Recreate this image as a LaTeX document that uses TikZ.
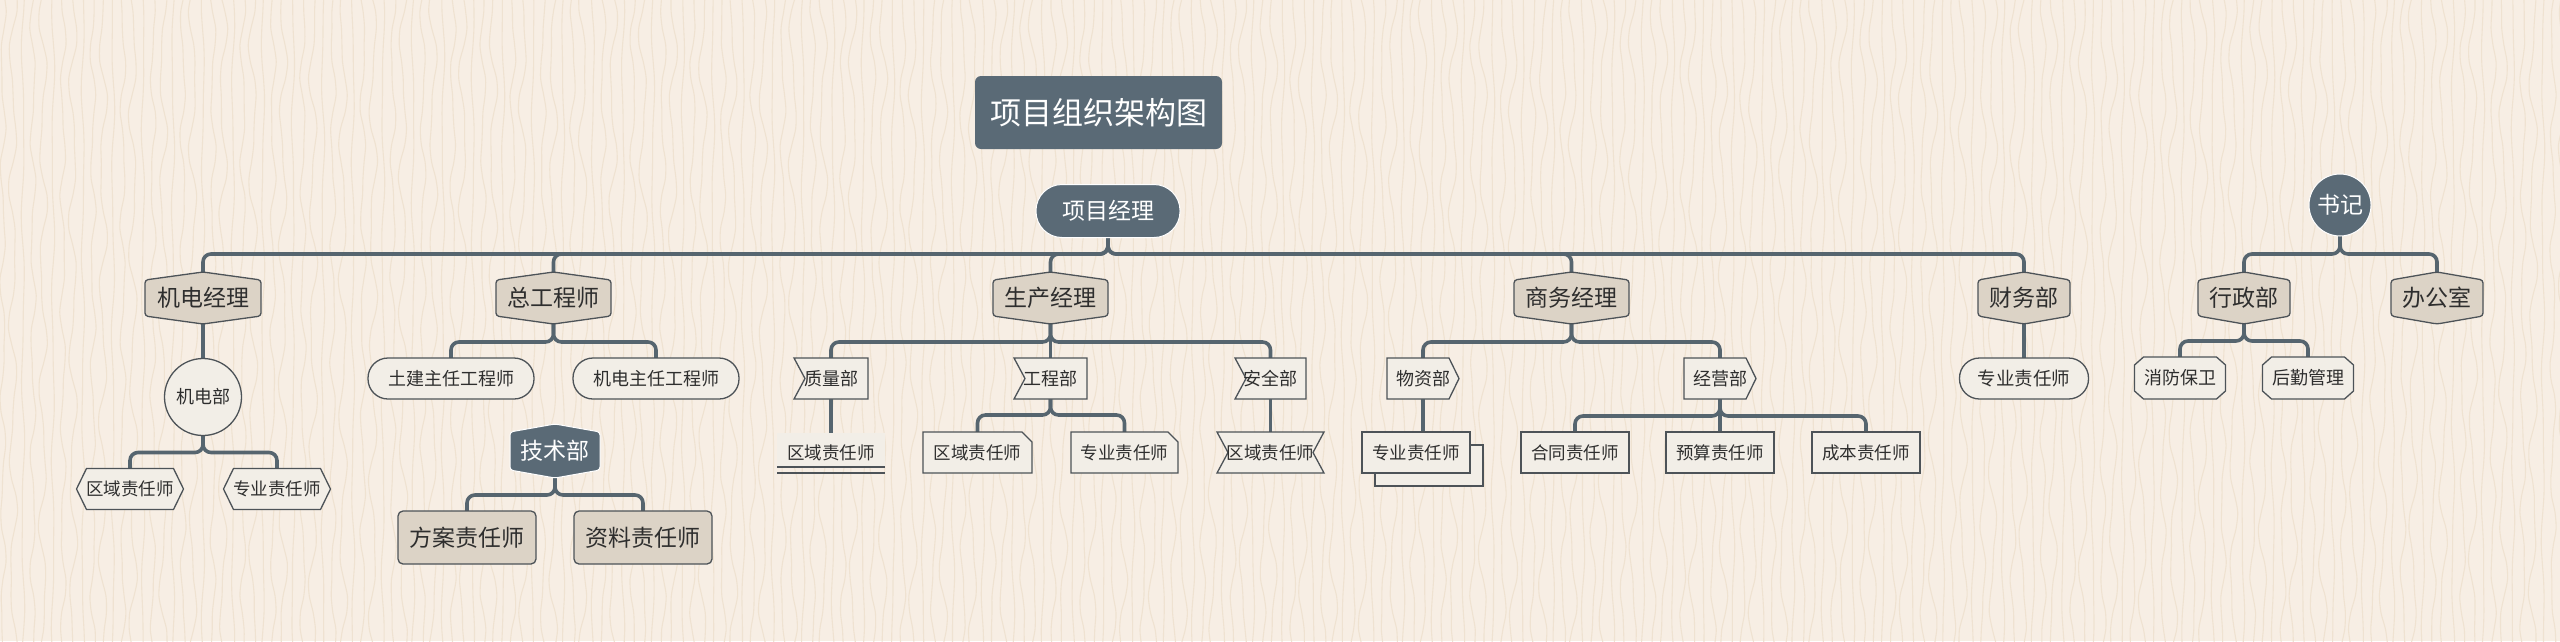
\documentclass[tikz,border=0pt]{standalone}
\usepackage{fontspec}
\newfontfamily\cjk{Noto Sans CJK SC}
\usetikzlibrary{calc}
\pgfdeclarelayer{paperlayer}
\pgfdeclarelayer{shp}
\pgfsetlayers{paperlayer,shp,main}
\definecolor{paper}{HTML}{F7EEE4}
\definecolor{grain}{HTML}{EFE2D1}
\definecolor{slate}{HTML}{5A6A76}
\definecolor{wire}{HTML}{56656F}
\definecolor{sand}{HTML}{DCD3C6}
\definecolor{chalk}{HTML}{F2EEE7}
\definecolor{ink}{HTML}{2E2E2E}
\definecolor{rim}{HTML}{4D5358}
\tikzset{
  tn/.style={inner sep=0pt, outer sep=0pt, text=ink, font=\cjk\fontsize{18}{18}\selectfont},
  big/.style={font=\cjk\fontsize{23}{23}\selectfont},
  huge/.style={font=\cjk\fontsize{31}{31}\selectfont},
  wt/.style={text=white},
  sz/.style n args={2}{minimum width=#1pt, minimum height=#2pt},
  mainfill/.style={fill=sand, draw=rim, line width=1.3pt, rounded corners=3pt},
  subfill/.style={fill=chalk, draw=rim, line width=1.3pt},
  darkfill/.style={fill=slate, draw=white, line width=1pt},
  conn/.style={draw=wire, line width=3.6pt, rounded corners=8pt},
  grainline/.style={draw=grain, line width=1.1pt}
}
\newcommand\hexV[2]{\path[#2] ($(#1.north west)+(0,8)$) -- (#1.north) -- ($(#1.north east)+(0,8)$) -- ($(#1.south east)+(0,-8)$) -- (#1.south) -- ($(#1.south west)+(0,-8)$) -- cycle;}
\newcommand\hexH[2]{\path[#2] (#1.west) -- ($(#1.north west)+(10,0)$) -- ($(#1.north east)+(-10,0)$) -- (#1.east) -- ($(#1.south east)+(-10,0)$) -- ($(#1.south west)+(10,0)$) -- cycle;}
\newcommand\notchL[2]{\path[#2] (#1.north west) -- (#1.north east) -- (#1.south east) -- (#1.south west) -- ($(#1.west)+(11,0)$) -- cycle;}
\newcommand\bowTie[2]{\path[#2] (#1.north west) -- (#1.north east) -- ($(#1.east)+(-11,0)$) -- (#1.south east) -- (#1.south west) -- ($(#1.west)+(11,0)$) -- cycle;}
\newcommand\cutTR[2]{\path[#2] (#1.north west) -- ($(#1.north east)+(-10,0)$) -- ($(#1.north east)+(0,10)$) -- (#1.south east) -- (#1.south west) -- cycle;}
\newcommand\arrowR[2]{\path[#2] (#1.north west) -- ($(#1.north east)+(-10,0)$) -- (#1.east) -- ($(#1.south east)+(-10,0)$) -- (#1.south west) -- cycle;}
\newcommand\octa[2]{\path[#2] ($(#1.north west)+(9,0)$) -- ($(#1.north east)+(-9,0)$) -- ($(#1.north east)+(0,8)$) -- ($(#1.south east)+(0,-8)$) -- ($(#1.south east)+(-9,0)$) -- ($(#1.south west)+(9,0)$) -- ($(#1.south west)+(0,-8)$) -- ($(#1.north west)+(0,8)$) -- cycle;}
\newcommand\stad[2]{\path[#2, rounded corners=20pt] (#1.north west) rectangle (#1.south east);}
\begin{document}
\begin{tikzpicture}[x=1pt, y=-1pt]
\useasboundingbox (0,0) rectangle (2560,641);
% ---- nodes ----
\node[tn, huge, wt, sz={247}{73}] (title) at (1098.5,112.5) {项目组织架构图};
\node[tn, big, wt, sz={144}{53}] (pm) at (1108,211) {项目经理};
\node[tn, big, sz={116}{52}] (jd) at (203,298) {机电经理};
\node[tn, big, sz={115}{52}] (zg) at (553.5,298) {总工程师};
\node[tn, big, sz={115}{52}] (sc) at (1050.5,298) {生产经理};
\node[tn, big, sz={115}{52}] (sw) at (1571.5,298) {商务经理};
\node[tn, big, sz={92}{52}] (cw) at (2024,298) {财务部};
\node[tn, big, wt, sz={62}{62}] (sj) at (2340,205) {书记};
\node[tn, big, sz={92}{52}] (xz) at (2244,298) {行政部};
\node[tn, big, sz={92}{52}] (bgs) at (2437,298) {办公室};
\node[tn, sz={77}{77}] (jdb) at (203,397) {机电部};
\node[tn, font=\cjk\fontsize{17.5}{17.5}\selectfont, sz={107}{41}] (jd1) at (130,489) {区域责任师};
\node[tn, font=\cjk\fontsize{17.5}{17.5}\selectfont, sz={107}{41}] (jd2) at (277,489) {专业责任师};
\node[tn, sz={166}{41}] (tj) at (451,378.5) {土建主任工程师};
\node[tn, sz={166}{41}] (jdz) at (656,378.5) {机电主任工程师};
\node[tn, big, wt, sz={90}{54}] (js) at (555,451) {技术部};
\node[tn, big, sz={138}{53}] (fa) at (467,537.5) {方案责任师};
\node[tn, big, sz={138}{53}] (zl) at (643,537.5) {资料责任师};
\node[tn, sz={74}{41}] (zlb) at (831,378.5) {质量部};
\node[tn, sz={73}{41}] (gcb) at (1050.5,378.5) {工程部};
\node[tn, sz={71}{41}] (aqb) at (1270.5,378.5) {安全部};
\node[tn, font=\cjk\fontsize{17.5}{17.5}\selectfont, sz={108}{40}] (zl1) at (831,453) {区域责任师};
\node[tn, font=\cjk\fontsize{17.5}{17.5}\selectfont, sz={109}{41}] (gc1) at (977.5,452.5) {区域责任师};
\node[tn, font=\cjk\fontsize{17.5}{17.5}\selectfont, sz={107}{41}] (gc2) at (1124.5,452.5) {专业责任师};
\node[tn, font=\cjk\fontsize{17.5}{17.5}\selectfont, sz={107}{41}] (aq1) at (1270.5,452.5) {区域责任师};
\node[tn, sz={72}{41}] (wzb) at (1423,378.5) {物资部};
\node[tn, sz={72}{41}] (jyb) at (1720,378.5) {经营部};
\node[tn, font=\cjk\fontsize{17.5}{17.5}\selectfont, sz={108}{41}] (wz1) at (1416,452.5) {专业责任师};
\node[tn, font=\cjk\fontsize{17.5}{17.5}\selectfont, sz={108}{41}] (ht) at (1575,452.5) {合同责任师};
\node[tn, font=\cjk\fontsize{17.5}{17.5}\selectfont, sz={108}{41}] (ys) at (1720,452.5) {预算责任师};
\node[tn, font=\cjk\fontsize{17.5}{17.5}\selectfont, sz={108}{41}] (cb) at (1866,452.5) {成本责任师};
\node[tn, font=\cjk\fontsize{18.5}{18.5}\selectfont, sz={129}{41}] (cw1) at (2024,378.5) {专业责任师};
\node[tn, sz={91}{42}] (xf) at (2180,378) {消防保卫};
\node[tn, sz={91}{42}] (hq) at (2308,378) {后勤管理};
% ---- background and connectors ----
\begin{pgfonlayer}{paperlayer}
\fill[paper] (0,0) rectangle (2560,641);
\foreach \gx [count=\i] in {3,13,...,2563}{
  \pgfmathsetmacro\amp{mod(\i*7,3)+1.2}
  \pgfmathsetmacro\ph{mod(\i*47,360)}
  \pgfmathsetmacro\ps{mod(\i*29,360)}
  \pgfmathsetmacro\fq{2.3+0.5*mod(\i*5,3)}
  \draw[grainline] plot[variable=\t, domain=-5:646, samples=40, smooth] ({\gx+\amp*sin(\t*\fq+\ph)+0.5*\amp*sin(\t*1.8*\fq+\ps)}, \t);
}
\path[conn] (pm.south) |- ($(jd.north)+(0,-18)$) -- (jd.north);
\path[conn] (pm.south) |- ($(zg.north)+(0,-18)$) -- (zg.north);
\path[conn] (pm.south) |- ($(sc.north)+(0,-18)$) -- (sc.north);
\path[conn] (pm.south) |- ($(sw.north)+(0,-18)$) -- (sw.north);
\path[conn] (pm.south) |- ($(cw.north)+(0,-18)$) -- (cw.north);
\path[conn] (sj.south) |- ($(xz.north)+(0,-18)$) -- (xz.north);
\path[conn] (sj.south) |- ($(bgs.north)+(0,-18)$) -- (bgs.north);
\path[conn] (jd.south) -- (jdb.north);
\path[conn] (jdb.south) |- ($(jd1.north)+(0,-16)$) -- (jd1.north);
\path[conn] (jdb.south) |- ($(jd2.north)+(0,-16)$) -- (jd2.north);
\path[conn] (zg.south) |- ($(tj.north)+(0,-16)$) -- (tj.north);
\path[conn] (zg.south) |- ($(jdz.north)+(0,-16)$) -- (jdz.north);
\path[conn] (js.south) |- ($(fa.north)+(0,-16)$) -- (fa.north);
\path[conn] (js.south) |- ($(zl.north)+(0,-16)$) -- (zl.north);
\path[conn] (sc.south) |- ($(zlb.north)+(0,-16)$) -- (zlb.north);
\path[conn] (sc.south) -- (gcb.north);
\path[conn] (sc.south) |- ($(aqb.north)+(0,-16)$) -- (aqb.north);
\path[conn] (zlb.south) -- (zl1.north);
\path[conn] (gcb.south) |- ($(gc1.north)+(0,-17)$) -- (gc1.north);
\path[conn] (gcb.south) |- ($(gc2.north)+(0,-17)$) -- (gc2.north);
\path[conn] (aqb.south) -- (aq1.north);
\path[conn] (sw.south) |- ($(wzb.north)+(0,-16)$) -- (wzb.north);
\path[conn] (sw.south) |- ($(jyb.north)+(0,-16)$) -- (jyb.north);
\path[conn] (wzb.south) -- (wzb.south |- wz1.north);
\path[conn] (jyb.south) |- ($(ht.north)+(0,-16)$) -- (ht.north);
\path[conn] (jyb.south) -- (ys.north);
\path[conn] (jyb.south) |- ($(cb.north)+(0,-16)$) -- (cb.north);
\path[conn] (cw.south) -- (cw1.north);
\path[conn] (xz.south) |- ($(xf.north)+(0,-16)$) -- (xf.north);
\path[conn] (xz.south) |- ($(hq.north)+(0,-16)$) -- (hq.north);
\end{pgfonlayer}
% ---- shapes ----
\begin{pgfonlayer}{shp}
\path[fill=slate, rounded corners=6pt] (title.north west) rectangle (title.south east);
\path[darkfill, rounded corners=26pt] (pm.north west) rectangle (pm.south east);
\path[darkfill] (sj) circle (31);
\foreach \n in {jd,zg,sc,sw,cw,xz,bgs}{\hexV{\n}{mainfill}}
\hexV{js}{fill=slate, draw=white, line width=1pt, rounded corners=3pt}
\path[subfill] (jdb) circle (38.5);
\hexH{jd1}{subfill}
\hexH{jd2}{subfill}
\stad{tj}{subfill}
\stad{jdz}{subfill}
\stad{cw1}{subfill}
\path[mainfill, rounded corners=5pt] (fa.north west) rectangle (fa.south east);
\path[mainfill, rounded corners=5pt] (zl.north west) rectangle (zl.south east);
\notchL{zlb}{subfill}
\notchL{gcb}{subfill}
\notchL{aqb}{subfill}
\fill[chalk] (zl1.north west) rectangle ($(zl1.south east)+(0,-6)$);
\draw[rim, line width=2.4pt] ($(zl1.south west)+(0,-6)$) -- ($(zl1.south east)+(0,-6)$);
\draw[rim, line width=1.3pt] (zl1.south west) -- (zl1.south east);
\cutTR{gc1}{subfill}
\cutTR{gc2}{subfill}
\bowTie{aq1}{subfill}
\arrowR{wzb}{subfill}
\arrowR{jyb}{subfill}
\path[subfill] ($(wz1.north west)+(13,13)$) rectangle ($(wz1.south east)+(13,13)$);
\path[subfill] (wz1.north west) rectangle (wz1.south east);
\path[subfill] (ht.north west) rectangle (ht.south east);
\path[subfill] (ys.north west) rectangle (ys.south east);
\path[subfill] (cb.north west) rectangle (cb.south east);
\octa{xf}{subfill}
\octa{hq}{subfill}
\end{pgfonlayer}
\end{tikzpicture}
\end{document}
